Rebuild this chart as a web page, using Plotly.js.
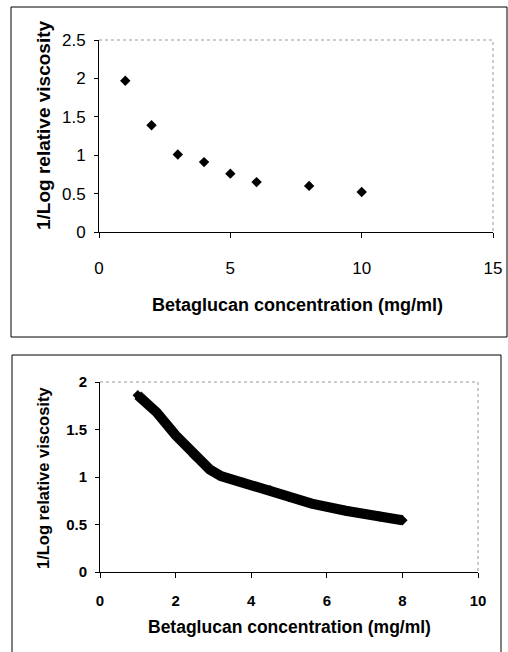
<!DOCTYPE html>
<html>
<head>
<meta charset="utf-8">
<script src="https://cdn.plot.ly/plotly-3.0.1.min.js"></script>
<style>html,body{margin:0;padding:0;background:#fff;}#chart{width:508px;height:652px;}</style>
</head>
<body>
<div id="chart"></div>
<script>
// Top chart: measured points
var concTop = [1, 2, 3, 4, 5, 6, 8, 10];
var invLogTop = [1.97, 1.39, 1.01, 0.91, 0.76, 0.65, 0.60, 0.52];
var xTicksTop = [0, 5, 10, 15];
var yTicksTop = [0, 0.5, 1, 1.5, 2, 2.5];

// Bottom chart: fitted curve
var concBottom = [1, 1.5, 2, 2.5, 2.9, 3.2, 3.8, 4.5, 5, 5.6, 6.5, 7.4, 8];
var invLogBottom = [1.86, 1.68, 1.44, 1.22, 1.08, 1.01, 0.94, 0.86, 0.79, 0.72, 0.645, 0.585, 0.545];
var xTicksBottom = [0, 2, 4, 6, 8, 10];
var yTicksBottom = [0, 0.5, 1, 1.5, 2];

var xTitle = 'Betaglucan concentration (mg/ml)';
var yTitle = '1/Log relative viscosity';

var W = 508, H = 652;
function px(x){return x / W;}
function py(y){return 1 - y / H;}

var traces = [
  {x: concTop, y: invLogTop, xaxis: 'x', yaxis: 'y', type: 'scatter', mode: 'markers',
   marker: {symbol: 'diamond', size: 8, color: '#000'}, hoverinfo: 'x+y'},
  {x: concBottom, y: invLogBottom, xaxis: 'x2', yaxis: 'y2', type: 'scatter', mode: 'lines+markers',
   line: {color: '#000', width: 10, shape: 'linear'},
   marker: {symbol: 'diamond', size: 8, color: '#000'}, hoverinfo: 'x+y'}
];

var fam = 'Liberation Sans, Arial, sans-serif';
var tickFontTop = {family: fam, size: 17, color: '#000'};
var tickFontBot = {family: fam, size: 15, color: '#000', weight: 'bold'};

var layout = {
  width: W, height: H,
  margin: {l: 0, r: 0, t: 0, b: 0},
  paper_bgcolor: '#fff', plot_bgcolor: '#fff',
  showlegend: false,
  xaxis: {domain: [px(99), px(493)], anchor: 'y', range: [0, 15], tickvals: xTicksTop,
    ticks: 'outside', ticklen: 5, tickcolor: '#000', showline: true, linecolor: '#000', linewidth: 1,
    showgrid: false, zeroline: false, tickfont: tickFontTop, ticklabelstandoff: 16},
  yaxis: {domain: [py(232), py(40)], anchor: 'x', range: [0, 2.5], tickvals: yTicksTop,
    ticktext: yTicksTop.map(String),
    ticks: 'outside', ticklen: 4, tickcolor: '#000', showline: true, linecolor: '#000', linewidth: 1,
    showgrid: false, zeroline: false, tickfont: tickFontTop, ticklabelstandoff: 5},
  xaxis2: {domain: [px(100), px(478)], anchor: 'y2', range: [0, 10], tickvals: xTicksBottom,
    ticks: 'outside', ticklen: 5, tickcolor: '#000', showline: true, linecolor: '#000', linewidth: 1,
    showgrid: false, zeroline: false, tickfont: tickFontBot, ticklabelstandoff: 10},
  yaxis2: {domain: [py(572), py(382)], anchor: 'x2', range: [0, 2], tickvals: yTicksBottom,
    ticks: 'outside', ticklen: 4, tickcolor: '#000', showline: true, linecolor: '#000', linewidth: 1,
    showgrid: false, zeroline: false, tickfont: tickFontBot, ticklabelstandoff: 5},
  shapes: [
    {type: 'rect', xref: 'paper', yref: 'paper', x0: px(11), x1: px(507), y0: py(337), y1: py(7),
     line: {color: '#000', width: 1}},
    {type: 'rect', xref: 'paper', yref: 'paper', x0: px(12), x1: px(501), y0: py(662), y1: py(355),
     line: {color: '#000', width: 1}},
    {type: 'path', xref: 'paper', yref: 'paper',
     path: 'M' + px(99) + ',' + py(40) + ' L' + px(493) + ',' + py(40) + ' L' + px(493) + ',' + py(232),
     line: {color: '#999', width: 1, dash: 'dot'}},
    {type: 'path', xref: 'paper', yref: 'paper',
     path: 'M' + px(100) + ',' + py(382) + ' L' + px(478) + ',' + py(382) + ' L' + px(478) + ',' + py(572),
     line: {color: '#999', width: 1, dash: 'dot'}}
  ],
  annotations: [
    {text: yTitle, xref: 'paper', yref: 'paper', x: px(43), y: py(125), textangle: -90, showarrow: false,
     xanchor: 'center', yanchor: 'middle',
     font: {family: fam, size: 19, color: '#000', weight: 'bold'}},
    {text: xTitle, xref: 'paper', yref: 'paper', x: px(297), y: py(305), showarrow: false,
     xanchor: 'center', yanchor: 'middle',
     font: {family: fam, size: 18, color: '#000', weight: 'bold'}},
    {text: yTitle, xref: 'paper', yref: 'paper', x: px(43), y: py(478), textangle: -90, showarrow: false,
     xanchor: 'center', yanchor: 'middle',
     font: {family: fam, size: 16.5, color: '#000', weight: 'bold'}},
    {text: xTitle, xref: 'paper', yref: 'paper', x: px(289), y: py(627), showarrow: false,
     xanchor: 'center', yanchor: 'middle',
     font: {family: fam, size: 17.5, color: '#000', weight: 'bold'}}
  ]
};

Plotly.newPlot('chart', traces, layout, {staticPlot: true, displayModeBar: false});
</script>
</body>
</html>
